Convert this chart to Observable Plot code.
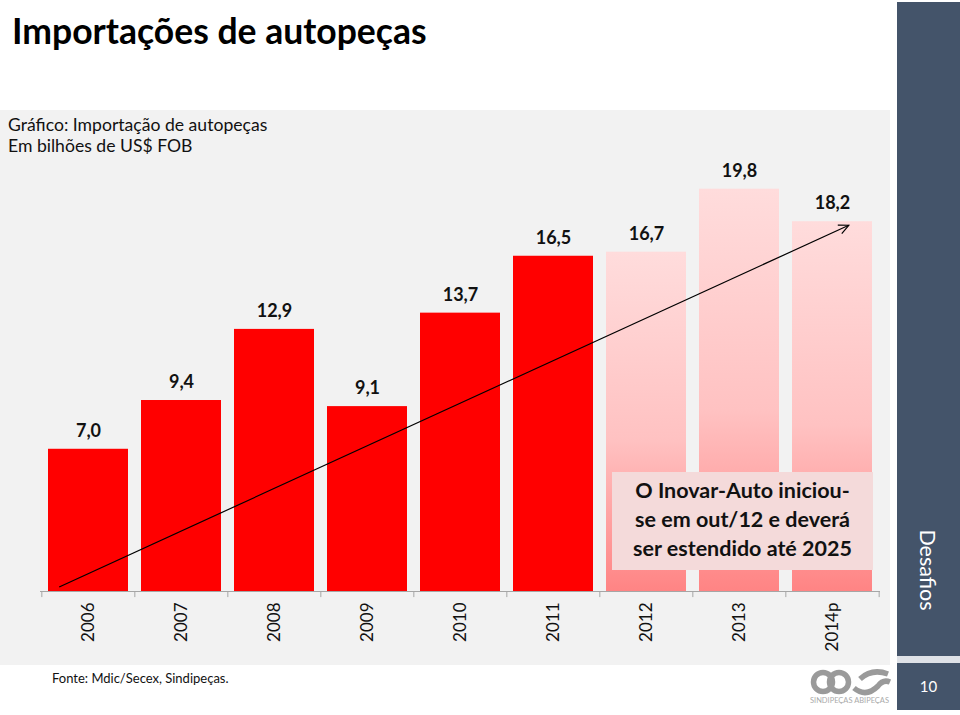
<!DOCTYPE html>
<html><head><meta charset="utf-8">
<script src="https://cdn.jsdelivr.net/npm/d3@7"></script>
<script src="https://cdn.jsdelivr.net/npm/@observablehq/plot@0.6"></script>
<style>
body{margin:0;width:960px;height:715px;position:relative;background:#fff;font-family:Lato,"Open Sans",sans-serif;overflow:hidden}
.abs{position:absolute}
</style></head><body>
<div class="abs" id="title" style="left:12px;top:13px;font-size:35.5px;line-height:1;font-weight:700;color:#000;white-space:nowrap"></div>
<div class="abs" id="chart" style="left:0;top:110px;width:890px;height:555px;background:#f2f2f2"></div>
<div class="abs" id="subtitle" style="left:8px;top:114px;font-size:17.6px;line-height:21px;color:#111"></div>
<div class="abs" id="note" style="left:612px;top:472px;width:261px;height:98px;background:#f4dada;text-align:center;font-weight:700;font-size:21.5px;line-height:29px;padding-top:4px;box-sizing:border-box;color:#111;white-space:nowrap"></div>
<div class="abs" id="source" style="left:52px;top:670px;font-size:13px;line-height:16px;color:#111"></div>
<div class="abs" style="left:897px;top:2px;width:63px;height:654px;background:#44546a"></div>
<div class="abs" style="left:897px;top:656px;width:63px;height:7px;background:#dfe2e7"></div>
<div class="abs" style="left:897px;top:663px;width:63px;height:47px;background:#44546a"></div>
<div class="abs" id="section" style="left:928px;top:570px;transform:translate(-50%,-50%) rotate(90deg);color:#fff;font-size:21.5px;white-space:nowrap"></div>
<div class="abs" id="page" style="left:897px;top:663px;width:63px;height:47px;line-height:47px;text-align:center;color:#fff;font-size:15px"></div>
<svg class="abs" style="left:806px;top:664px" width="88" height="44">
  <g fill="none" stroke="#9a9a9a" stroke-width="5.5">
    <circle cx="17" cy="18" r="9.5"/><circle cx="33" cy="18" r="9.5"/>
    <path d="M48 24 Q60 34 72 22 Q77 15 84 18"/>
    <path d="M54 15 Q66 4 82 10"/>
  </g>
  <text x="4" y="39" font-size="7.5" fill="#aaa" font-family="Lato" textLength="79" lengthAdjust="spacingAndGlyphs">SINDIPEÇAS  ABIPEÇAS</text>
</svg>
<script>
// ---- data ----
const years = ["2006","2007","2008","2009","2010","2011","2012","2013","2014p"];
const imports = [7.0, 9.4, 12.9, 9.1, 13.7, 16.5, 16.7, 19.8, 18.2];
const period = ["antes","antes","antes","antes","antes","antes","Inovar-Auto","Inovar-Auto","Inovar-Auto"];
const titleText = "Importações de autopeças";
const subtitleLines = ["Gráfico: Importação de autopeças", "Em bilhões de US$ FOB"];
const noteLines = ["O Inovar-Auto iniciou-", "se em out/12 e deverá", "ser estendido até 2025"];
const sourceText = "Fonte: Mdic/Secex, Sindipeças.";
const sectionText = "Desafios";
const pageText = "10";
// trend arrow: [category, fraction of bar width, value]
const arrowStart = ["2006", 0.14, 0.2];
const arrowEnd = ["2014p", 0.71, 18.0];

document.getElementById("title").textContent = titleText;
document.getElementById("subtitle").innerHTML = subtitleLines.join("<br>");
document.getElementById("note").innerHTML = noteLines.join("<br>");
document.getElementById("source").textContent = sourceText;
document.getElementById("section").textContent = sectionText;
document.getElementById("page").textContent = pageText;

const data = years.map((y, i) => ({year: y, value: imports[i], period: period[i]}));
const fmt = v => v.toFixed(1).replace(".", ",");
const step = 840 / years.length;

const defs = () => {
  const d = d3.create("svg:defs");
  const g = d.append("linearGradient").attr("id", "fade").attr("x1", 0).attr("y1", 0).attr("x2", 0).attr("y2", 1);
  g.append("stop").attr("offset", "0%").attr("stop-color", "#ffdcdc");
  g.append("stop").attr("offset", "55%").attr("stop-color", "#ffc2c2");
  g.append("stop").attr("offset", "100%").attr("stop-color", "#ff8484");
  return d.node();
};

const arrowMark = (index, scales) => {
  const x = scales.x, y = scales.y;
  const st = x(years[1]) - x(years[0]);
  const bw = st * 0.86;
  const x1 = x(arrowStart[0]) + arrowStart[1] * bw, y1 = y(arrowStart[2]);
  const x2 = x(arrowEnd[0]) + arrowEnd[1] * bw, y2 = y(arrowEnd[2]);
  const ang = Math.atan2(y2 - y1, x2 - x1);
  const L = 11, a = Math.PI / 7;
  const g = d3.create("svg:g").attr("stroke", "#000").attr("stroke-width", 1.2).attr("fill", "none");
  g.append("line").attr("x1", x1).attr("y1", y1).attr("x2", x2).attr("y2", y2);
  g.append("path").attr("d",
    `M${x2 - L*Math.cos(ang - a)},${y2 - L*Math.sin(ang - a)}L${x2},${y2}L${x2 - L*Math.cos(ang + a)},${y2 - L*Math.sin(ang + a)}`);
  return g.node();
};

const chart = Plot.plot({
  width: 890, height: 555,
  marginTop: 34, marginBottom: 74, marginLeft: 40, marginRight: 10,
  style: {background: "transparent", fontFamily: "Lato, sans-serif", color: "#111"},
  x: {domain: years, paddingInner: 0.14, paddingOuter: 0.07, label: null},
  y: {domain: [0, 22], axis: null},
  marks: [
    defs,
    Plot.barY(data.filter(d => d.period === "antes"), {x: "year", y: "value", fill: "#ff0000"}),
    Plot.barY(data.filter(d => d.period !== "antes"), {x: "year", y: "value", fill: "url(#fade)"}),
    Plot.ruleY([0], {stroke: "#a6a6a6"}),
    Plot.ruleX(years, {x: d => d, y1: 0, y2: -0.3, dx: -step / 2, stroke: "#a6a6a6"}),
    Plot.ruleX([years[years.length - 1]], {x: d => d, y1: 0, y2: -0.3, dx: step / 2, stroke: "#a6a6a6"}),
    Plot.axisX({tickSize: 0, tickRotate: -90, tickPadding: 11, fontSize: 17, label: null}),
    Plot.text(data, {x: "year", y: "value", text: d => fmt(d.value), dy: -18, fontSize: 18, fontWeight: "bold", fill: "#111"}),
    arrowMark
  ]
});
document.getElementById("chart").appendChild(chart);
</script>
</body></html>
